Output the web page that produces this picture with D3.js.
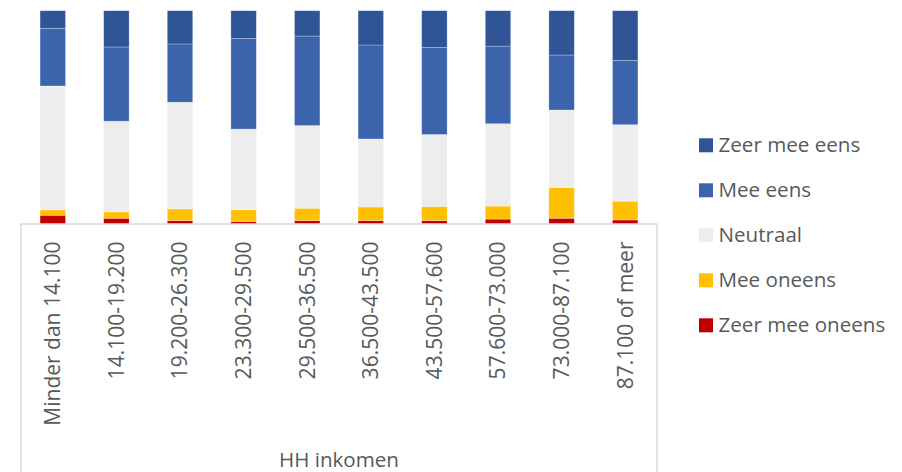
<!DOCTYPE html>
<html><head><meta charset="utf-8">
<script src="https://cdn.jsdelivr.net/npm/d3@7"></script>
<style>body{margin:0;background:#fff}svg{display:block}</style>
</head><body>
<svg id="c" width="902" height="472"></svg>
<script>
const categories = ["Minder dan 14.100","14.100-19.200","19.200-26.300","23.300-29.500","29.500-36.500","36.500-43.500","43.500-57.600","57.600-73.000","73.000-87.100","87.100 of meer"];
const seriesNames = ["Zeer mee oneens","Mee oneens","Neutraal","Mee eens","Zeer mee eens"];
const zeerMeeOneens = [4.1,2.7,1.6,1.1,1.6,1.6,1.6,2.3,2.7,1.9];
const meeOneens     = [2.5,3.0,5.5,5.6,5.8,6.4,6.6,6.1,14.4,8.8];
const neutraal      = [58.1,42.5,50.0,37.8,38.8,31.9,33.8,38.6,36.4,35.9];
const meeEens       = [27.0,34.8,27.3,42.5,42.0,44.1,40.8,36.4,25.8,30.2];
const zeerMeeEens   = [8.3,17.0,15.6,13.0,11.9,16.1,17.3,16.6,20.8,23.3];
const xTitle = "HH inkomen";
const colors = ["#C00000","#FFC000","#EDEDED","#3B64AD","#2F5597"];

const svg = d3.select("#c");
const font = "'Open Sans', sans-serif";
const rows = categories.map((c,i)=>({cat:c, "Zeer mee oneens":zeerMeeOneens[i], "Mee oneens":meeOneens[i], "Neutraal":neutraal[i], "Mee eens":meeEens[i], "Zeer mee eens":zeerMeeEens[i]}));
rows.forEach(r=>{const t=seriesNames.reduce((s,k)=>s+r[k],0); seriesNames.forEach(k=>r[k]=r[k]/t);});
const stack = d3.stack().keys(seriesNames)(rows);

const x = d3.scaleBand().domain(categories).range([21,657]).paddingInner(0.6).paddingOuter(0.3);
const y = d3.scaleLinear().domain([0,1]).range([224,10.7]);
const color = d3.scaleOrdinal().domain(seriesNames).range(colors);

svg.append("g").selectAll("g").data(stack).join("g")
  .attr("fill", d=>color(d.key))
  .selectAll("rect").data(d=>d).join("rect")
  .attr("x", d=>x(d.data.cat))
  .attr("width", x.bandwidth())
  .attr("y", d=>y(d[1]))
  .attr("height", d=>y(d[0])-y(d[1]))
  .attr("stroke","rgba(255,255,255,0.35)").attr("stroke-width",0.75);

// axis box
svg.append("path").attr("d","M21,472V224H657V472").attr("fill","none").attr("stroke","#D9D9D9").attr("stroke-width",1.5);

const xAxis = d3.axisBottom(x).tickSize(0).tickPadding(0);
const gx = svg.append("g").attr("transform","translate(0,224)").call(xAxis);
gx.select(".domain").remove();
gx.selectAll("text")
  .attr("transform","rotate(-90)")
  .attr("x",-17.5).attr("y",0).attr("dy","0.35em")
  .attr("text-anchor","end")
  .attr("fill","#595959")
  .style("font-family",font).style("font-size","21px");

svg.append("text").attr("x",339).attr("y",467).attr("text-anchor","middle")
  .attr("fill","#595959").style("font-family",font).style("font-size","20.6px").text(xTitle);

// legend
const legendOrder = seriesNames.slice().reverse();
const lg = svg.append("g").selectAll("g").data(legendOrder).join("g")
  .attr("transform",(d,i)=>`translate(699,${138.3+i*45})`);
lg.append("rect").attr("width",14).attr("height",14).attr("fill",d=>color(d));
lg.append("text").attr("x",19.5).attr("y",14).attr("fill","#595959")
  .style("font-family",font).style("font-size","20.6px").text(d=>d);
</script>
</body></html>
